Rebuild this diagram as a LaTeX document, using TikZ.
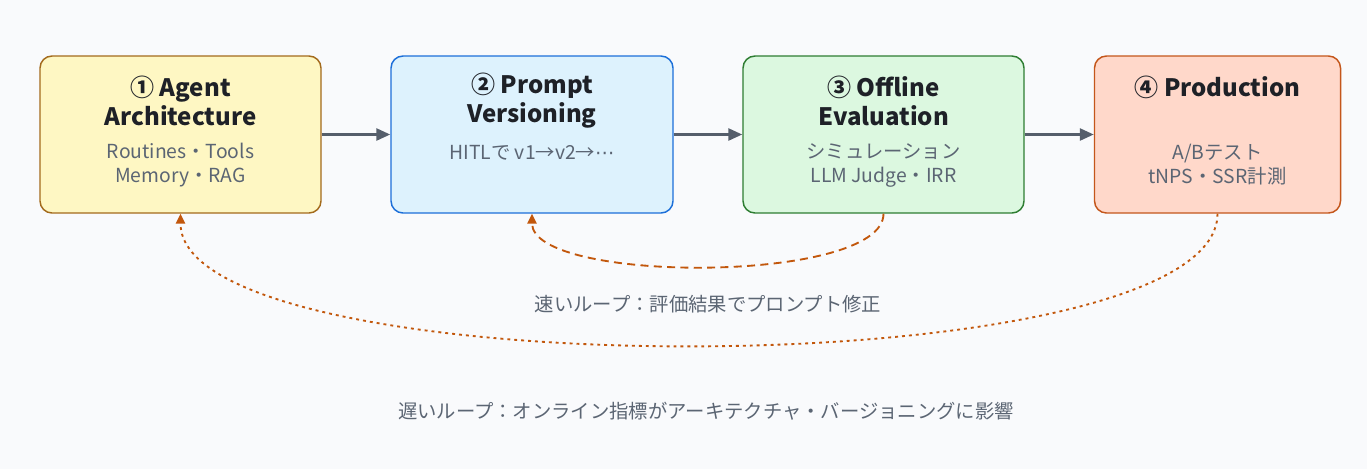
\documentclass[tikz,border=0pt]{standalone}
\usepackage{fontspec}
\setmainfont{Noto Sans CJK JP}
\newfontfamily\dejavu{DejaVu Sans}
\usetikzlibrary{arrows.meta}
\definecolor{bg}{HTML}{F9FAFC}
\definecolor{titlec}{HTML}{1E2127}
\definecolor{subc}{HTML}{5B6573}
\definecolor{arrowc}{HTML}{555E6B}
\definecolor{loopc}{HTML}{C2570C}
\definecolor{fillA}{HTML}{FEF7C3}
\definecolor{drawA}{HTML}{A36A1C}
\definecolor{fillB}{HTML}{DDF2FD}
\definecolor{drawB}{HTML}{1C6FD9}
\definecolor{fillC}{HTML}{DCF8E0}
\definecolor{drawC}{HTML}{2E7D32}
\definecolor{fillD}{HTML}{FFD8CA}
\definecolor{drawD}{HTML}{C4561B}
\tikzset{
  stage/.style={draw, rounded corners=9pt, line width=1.1pt, minimum height=117.75pt, inner sep=0pt},
  ttl/.style={font=\fontsize{18}{21.75}\selectfont\bfseries, text=titlec, align=center},
  subtxt/.style={font=\fontsize{14.5}{18}\selectfont, text=subc, align=center},
  looplabel/.style={font=\fontsize{14.5}{18}\selectfont, text=subc},
  flow/.style={draw=arrowc, line width=2pt, -{Triangle[length=10.5pt,width=9pt]}},
  fastloop/.style={draw=loopc, line width=1.4pt, dash pattern=on 6pt off 4pt, -{Triangle[length=7.5pt,width=7pt]}},
  slowloop/.style={draw=loopc, line width=1.4pt, dash pattern=on 2.2pt off 3pt, -{Triangle[length=7.5pt,width=7pt]}},
}
\begin{document}
\begin{tikzpicture}[x=0.75pt,y=-0.75pt]
\useasboundingbox[fill=bg] (0,0) rectangle (1367,469);
% boxes
\node[stage, fill=fillA, draw=drawA, minimum width=210.75pt] (b1) at (180.5,134.5) {};
\node[stage, fill=fillB, draw=drawB, minimum width=211.5pt] (b2) at (532,134.5) {};
\node[stage, fill=fillC, draw=drawC, minimum width=210.75pt] (b3) at (883.5,134.5) {};
\node[stage, fill=fillD, draw=drawD, minimum width=184.5pt] (b4) at (1217.5,134.5) {};
% texts
\node[ttl] (t1) at (180.5,101) {① Agent\\Architecture};
\node[subtxt] (s1) at (180.5,165) {Routines・Tools\\Memory・RAG};
\node[ttl] (t2) at (532,101) {② Prompt\\Versioning};
\node[subtxt] (s2) at (532,153) {HITLで v1→v2→{\dejavu ⋯}};
\node[ttl] (t3) at (883.5,101) {③ Offline\\Evaluation};
\node[subtxt] (s3) at (883.5,165) {シミュレーション\\LLM Judge・IRR};
\node[ttl] (t4) at (1217.5,87) {④ Production};
\node[subtxt] (s4) at (1217.5,165) {A/Bテスト\\tNPS・SSR計測};
% flow arrows
\draw[flow] (b1.east) -- (b2.west);
\draw[flow] (b2.east) -- (b3.west);
\draw[flow] (b3.east) -- (b4.west);
% loops
\draw[fastloop] (b3.south) .. controls (883.5,284) and (532,284) .. (b2.south);
\draw[slowloop] (b4.south) .. controls (1217.5,389) and (180.5,389) .. (b1.south);
\node[looplabel] (fl) at (708,304) {速いループ：評価結果でプロンプト修正};
\node[looplabel] (sl) at (706,411) {遅いループ：オンライン指標がアーキテクチャ・バージョニングに影響};
\end{tikzpicture}
\end{document}
